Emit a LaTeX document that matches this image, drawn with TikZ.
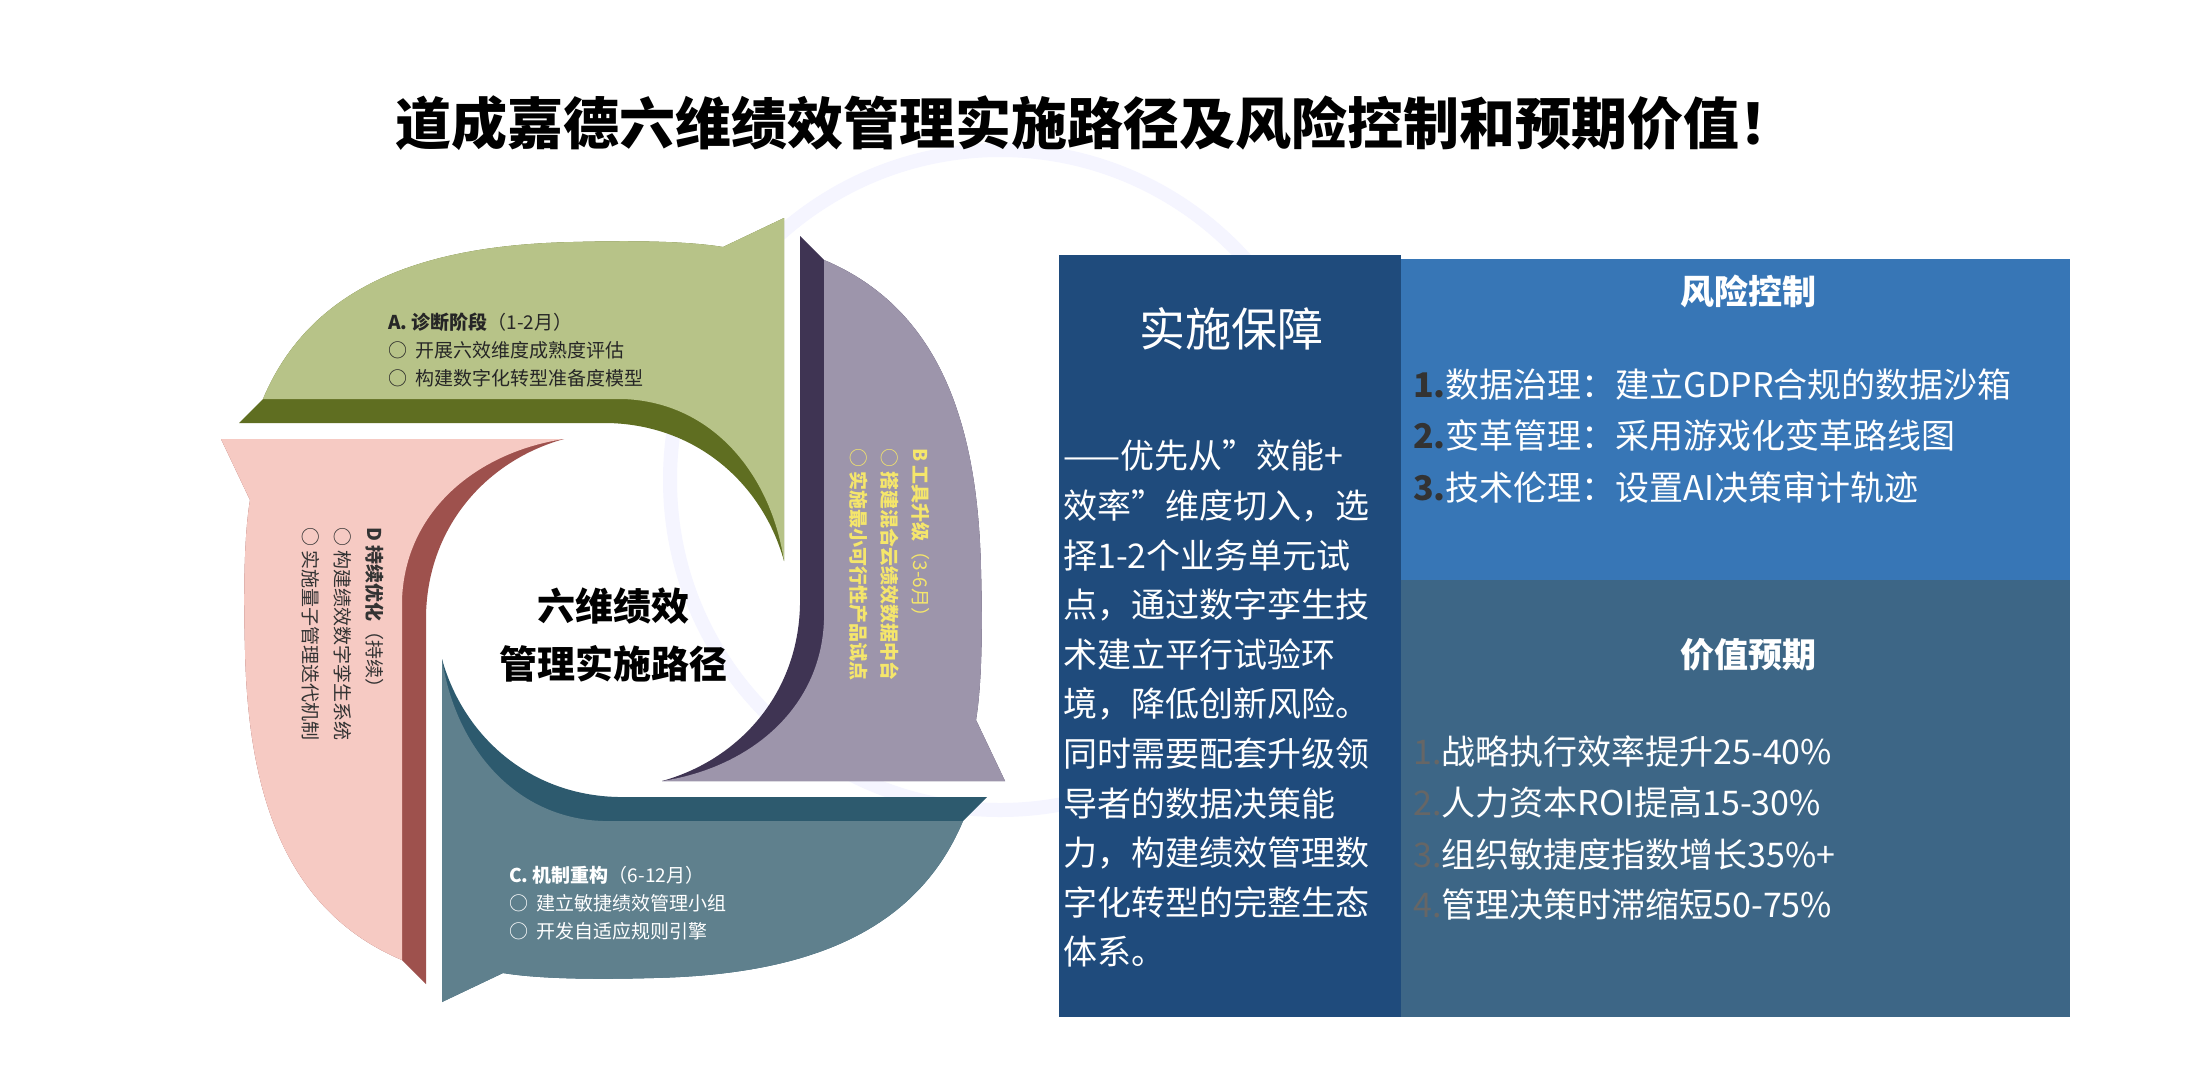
\documentclass[tikz,border=0pt]{standalone}
\usepackage{fontspec}
\setmainfont{Noto Sans CJK SC}
\begin{document}
\begin{tikzpicture}[x=1pt,y=1pt,
  txt/.style={inner sep=0pt,font=\fontsize{19}{25}\selectfont},
  rtxt/.style={inner sep=0pt,anchor=west,text=white,font=\fontsize{34}{40}\selectfont}]
\definecolor{Alt}{HTML}{B7C388}\definecolor{Adk}{HTML}{5F6E21}
\definecolor{Blt}{HTML}{9D95AB}\definecolor{Bdk}{HTML}{3F3453}
\definecolor{Clt}{HTML}{5F808D}\definecolor{Cdk}{HTML}{2D5A6E}
\definecolor{Dlt}{HTML}{F6CAC3}\definecolor{Ddk}{HTML}{9E514D}
\definecolor{bxA}{HTML}{1F4B7C}\definecolor{bxB}{HTML}{3776B6}\definecolor{bxC}{HTML}{3D6686}
\definecolor{yel}{HTML}{F5E66B}
\useasboundingbox (0,0) rectangle (2192,-1080);
\fill[white] (0,0) rectangle (2192,-1080);
% faint watermark
\draw[blue!4,line width=14pt] (1000,-480) circle (330);
\node[font=\fontsize{56}{60}\selectfont\bfseries] (title) at (1095,-123) {道成嘉德六维绩效管理实施路径及风险控制和预期价值！};
% blades
\foreach \k/\lt/\dk in {0/Alt/Adk,1/Blt/Bdk,2/Clt/Cdk,3/Dlt/Ddk}{
\begin{scope}[shift={(613,-610)},rotate=-90*\k]
\fill[\dk] (-374,187) -- (-350,211) .. controls (-300,330) and (-180,365) .. (-40,368) .. controls (30,370) and (80,368) .. (110,363) -- (171,392) -- (171,49) .. controls (150,125) and (85,185) .. (-5,187) -- cycle;
\fill[\lt] (-350,211) .. controls (-300,330) and (-180,365) .. (-40,368) .. controls (30,370) and (80,368) .. (110,363) -- (171,392) -- (171,49) .. controls (158,135) and (100,208) .. (10,211) -- cycle;
\end{scope}}
% A text
\node[txt,anchor=north west,align=left,text=black!85] (ta) at (388,-313) {\textbf{A. 诊断阶段}（1-2月）\\[3pt] ○\ \ 开展六效维度成熟度评估\\[3pt] ○\ \ 构建数字化转型准备度模型};
% B text
\node[txt,anchor=north west,align=left,rotate=-90,text=yel,font=\fontsize{19}{31}\selectfont] (tb) at (930,-448) {\textbf{B 工具升级}（3-6月）\\ ○ \textbf{搭建混合云绩效数据中台}\\ ○ \textbf{实施最小可行性产品试点}};
% C text
\node[txt,anchor=north west,align=left,text=white] (tc) at (509,-866) {\textbf{C. 机制重构}（6-12月）\\[3pt] ○\ \ 建立敏捷绩效管理小组\\[3pt] ○\ \ 开发自适应规则引擎};
% D text
\node[txt,anchor=north west,align=left,rotate=-90,text=black!80,font=\fontsize{19}{32}\selectfont] (td) at (384,-527) {\textbf{D 持续优化}（持续）\\ ○ 构建绩效数字孪生系统\\ ○ 实施量子管理迭代机制};
% center
\node[font=\fontsize{38}{58}\selectfont\bfseries,align=center] (ctr) at (613,-635) {六维绩效\\管理实施路径};
% right panel
\fill[bxA] (1059,-255) rectangle (1401,-1017);
\fill[bxB] (1401,-259) rectangle (2070,-580);
\fill[bxC] (1401,-580) rectangle (2070,-1017);
\node[text=white,font=\fontsize{46}{50}\selectfont] (h1) at (1231,-329) {实施保障};
\node[anchor=north west,inner sep=0pt,text=white,align=left,font=\fontsize{34}{49.6}\selectfont] (body) at (1063,-440) {——优先从”效能+\\效率”维度切入，选\\择1-2个业务单元试\\点，通过数字孪生技\\术建立平行试验环\\境，降低创新风险。\\同时需要配套升级领\\导者的数据决策能\\力，构建绩效管理数\\字化转型的完整生态\\体系。};
\node[text=white,font=\fontsize{34}{38}\selectfont\bfseries] (h2) at (1748,-291) {风险控制};
\node[rtxt] (r1) at (1413,-385) {\textbf{\color{black!80}1.}数据治理：建立GDPR合规的数据沙箱};
\node[rtxt] (r2) at (1413,-436) {\textbf{\color{black!80}2.}变革管理：采用游戏化变革路线图};
\node[rtxt] (r3) at (1413,-488) {\textbf{\color{black!80}3.}技术伦理：设置AI决策审计轨迹};
\node[text=white,font=\fontsize{34}{38}\selectfont\bfseries] (h3) at (1748,-655) {价值预期};
\node[rtxt] (v1) at (1413,-751) {{\color{black!60}1.}战略执行效率提升25-40\%};
\node[rtxt] (v2) at (1413,-803) {{\color{black!60}2.}人力资本ROI提高15-30\%};
\node[rtxt] (v3) at (1413,-855) {{\color{black!60}3.}组织敏捷度指数增长35\%+};
\node[rtxt] (v4) at (1413,-905) {{\color{black!60}4.}管理决策时滞缩短50-75\%};
\end{tikzpicture}
\end{document}
